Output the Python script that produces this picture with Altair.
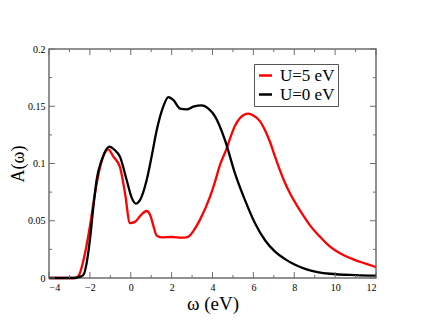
import altair as alt
import pandas as pd

# U=5 eV (red)
x_u5 = [-4, -2.75, -2.55, -2.24, -2.0, -1.75, -1.5, -1.3, -1.1, -0.85, -0.53, -0.28, -0.04, 0.2, 0.5, 0.78,
        0.95, 1.1, 1.27, 1.5, 2.0, 2.5, 2.8, 3.1, 3.39, 3.88, 4.12, 4.37, 4.69, 4.86, 5.1, 5.34, 5.55, 5.75, 6.0, 6.32,
        6.57, 6.81, 7.06, 7.3, 7.55, 7.79, 8.04, 8.28, 8.77, 9.26, 9.75, 10.24, 10.89, 11.5, 12.0]
y_u5 = [0, 0, 0.002, 0.0215, 0.045, 0.074, 0.097, 0.108, 0.1124, 0.106, 0.097, 0.074, 0.048, 0.049, 0.055, 0.0585,
        0.055, 0.046, 0.037, 0.0355, 0.0358, 0.0352, 0.036, 0.042, 0.051, 0.071, 0.084, 0.099, 0.113, 0.122, 0.133, 0.1395, 0.1425, 0.1435, 0.142, 0.137,
        0.129, 0.119, 0.106, 0.094, 0.083, 0.074, 0.066, 0.059, 0.046, 0.036, 0.0274, 0.0216, 0.0163, 0.0125, 0.0095]

# U=0 eV (black)
x_u0 = [-4, -2.8, -2.5, -2.32, -2.16, -2.0, -1.83, -1.67, -1.42, -1.05, -0.8, -0.53, -0.2, 0.05, 0.25, 0.45, 0.78,
        1.02, 1.27, 1.59, 1.84, 2.08, 2.41, 2.74, 3.06, 3.47, 3.8, 4.13, 4.61, 5.1, 5.59, 6.08,
        6.57, 7.06, 7.55, 8.04, 8.6, 9.2, 9.75, 11.0, 12.0]
y_u0 = [0, 0, 0.001, 0.0026, 0.0128, 0.033, 0.062, 0.0856, 0.103, 0.1147, 0.112, 0.106, 0.0856, 0.07, 0.065, 0.068, 0.0856,
        0.106, 0.129, 0.1496, 0.158, 0.1555, 0.148, 0.1473, 0.1496, 0.1508, 0.148, 0.141, 0.1205, 0.0914, 0.068, 0.0478,
        0.033, 0.023, 0.0165, 0.0115, 0.0075, 0.005, 0.0037, 0.0025, 0.002]

series = ["U=5 eV", "U=0 eV"]
colors = ["#ff0000", "#000000"]

x_major = [-4, -2, 0, 2, 4, 6, 8, 10, 12]
x_minor = [-3, -1, 1, 3, 5, 7, 9, 11]
y_major = [0, 0.05, 0.1, 0.15, 0.2]
y_minor = [0.025, 0.075, 0.125, 0.175]

W, H = 327, 229
FONT = "Liberation Serif"
GRAY = "#6e6e6e"

df = pd.concat([
    pd.DataFrame({"w": x_u5, "A": y_u5, "s": series[0], "o": range(len(x_u5))}),
    pd.DataFrame({"w": x_u0, "A": y_u0, "s": series[1], "o": range(len(x_u0))}),
])

xs = alt.Scale(domain=[-4, 12], nice=False, zero=False)
ys = alt.Scale(domain=[0, 0.2], nice=False)

xa = alt.Axis(values=x_major, ticks=False, domain=False, grid=False,
              labelFont=FONT, labelFontSize=10, labelPadding=4,
              title="ω (eV)", titleFont=FONT, titleFontSize=19,
              titleFontWeight="normal", titlePadding=2, labelColor="black")
ya = alt.Axis(values=y_major, ticks=False, domain=False, grid=False, format="~g",
              labelFont=FONT, labelFontSize=10, labelPadding=4,
              title="A(ω)", titleFont=FONT, titleFontSize=18, titleX=-22,
              titleFontWeight="normal", labelColor="black")

lines = alt.Chart(df).mark_line(strokeWidth=2.3, interpolate="monotone").encode(
    x=alt.X("w:Q", scale=xs, axis=xa),
    y=alt.Y("A:Q", scale=ys, axis=ya),
    color=alt.Color("s:N", scale=alt.Scale(domain=series, range=colors),
                    legend=alt.Legend(title=None, orient="none", legendX=205, legendY=15,
                                      symbolType="stroke", symbolStrokeWidth=2.5, symbolSize=170,
                                      labelFont=FONT, labelFontSize=17, labelOffset=6,
                                      strokeColor="#555555", fillColor="white", padding=3,
                                      rowPadding=1, labelColor="black")),
    order="o:Q",
)

def xticks(vals, L):
    d = pd.DataFrame({"v": vals})
    b = alt.Chart(d).mark_rule(color=GRAY, strokeWidth=1).encode(
        x=alt.X("v:Q", scale=xs, axis=xa), y=alt.value(H), y2=alt.value(H - L))
    t = alt.Chart(d).mark_rule(color=GRAY, strokeWidth=1).encode(
        x=alt.X("v:Q", scale=xs, axis=xa), y=alt.value(0), y2=alt.value(L))
    return b + t

def yticks(vals, L):
    d = pd.DataFrame({"v": vals})
    l = alt.Chart(d).mark_rule(color=GRAY, strokeWidth=1).encode(
        y=alt.Y("v:Q", scale=ys, axis=ya), x=alt.value(0), x2=alt.value(L))
    r = alt.Chart(d).mark_rule(color=GRAY, strokeWidth=1).encode(
        y=alt.Y("v:Q", scale=ys, axis=ya), x=alt.value(W), x2=alt.value(W - L))
    return l + r

chart = alt.layer(
    lines, xticks(x_major, 6), xticks(x_minor, 3), yticks(y_major, 6), yticks(y_minor, 3)
).properties(
    width=W, height=H,
    autosize=alt.AutoSizeParams(type="none"),
    padding={"left": 41, "top": 41, "right": 30, "bottom": 40},
).configure_view(stroke=GRAY, strokeWidth=1.5)

chart.save("out.html", embed_options={"renderer": "svg", "actions": False})
